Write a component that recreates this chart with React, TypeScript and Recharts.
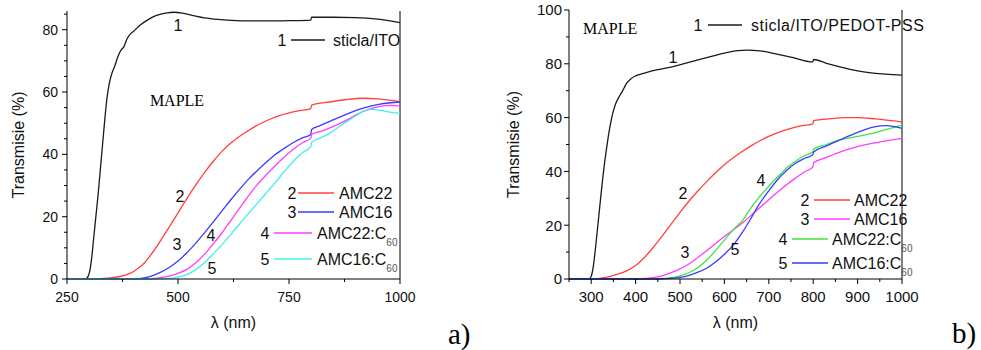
import React from "react";
import { Line, LineChart, ReferenceLine, XAxis, YAxis } from "recharts";

type Pt = [number, number];

// a) MAPLE films on glass/ITO — transmission (%) vs wavelength (nm)
const a1: Pt[] = [[250,0],[290,0],[295,0.3],[300,1.8],[305,6],[310,13],[315,20],[320,27],[325,35],[330,43],[335,51],[340,58],[345,62.5],[350,65.5],[358,68.5],[365,71.5],[372,73.5],[378,74.5],[385,77],[392,78.5],[400,79.5],[415,81.5],[430,83],[450,84.5],[475,85.4],[490,85.6],[510,85.3],[530,84.7],[560,83.8],[590,83.3],[620,83],[660,82.8],[700,82.8],[750,82.9],[799,83.1],[801,84],[850,84],[900,83.9],[950,83.4],[1000,82.3]];
const a2: Pt[] = [[250,0],[300,0],[340,0.3],[370,0.8],[392,1.8],[405,2.9],[422,4.8],[437,7.4],[452,10.4],[467,13.7],[482,17.1],[497,20.5],[512,24],[527,27.4],[542,30.6],[560,34.2],[579,37.7],[598,40.8],[617,43.4],[636,45.5],[655,47.3],[673,48.9],[692,50.3],[711,51.5],[730,52.5],[765,53.8],[799,54.7],[801,55.8],[842,56.8],[880,57.6],[917,58],[950,57.8],[1000,56.9]];
const a3: Pt[] = [[250,0],[400,0],[420,0.3],[440,0.9],[460,2.1],[480,3.7],[500,5.8],[520,8.4],[540,11.5],[560,14.9],[580,18.4],[600,22],[620,25.6],[640,29],[660,32.2],[680,35],[700,37.6],[720,40],[740,42],[760,43.8],[780,45.3],[799,46.4],[801,48],[820,49.2],[842,50.6],[880,52.9],[917,54.8],[955,56.1],[1000,56.8]];
const a4: Pt[] = [[250,0],[430,0],[460,0.4],[480,0.9],[500,1.8],[520,3.1],[540,5.2],[560,8],[580,11.4],[600,15],[620,19],[640,23],[660,26.9],[680,30.5],[700,33.6],[720,36.5],[740,39.2],[760,41.6],[780,43.7],[799,45.2],[801,46.4],[820,47.3],[842,48.5],[880,51],[917,53.8],[955,55.4],[980,55.7],[1000,55.5]];
const a5: Pt[] = [[250,0],[450,0],[480,0.2],[500,0.6],[520,1.4],[540,3],[560,5.3],[580,8.2],[600,11.2],[620,14.5],[640,17.9],[660,21.2],[680,24.5],[700,27.8],[720,31.1],[740,34.6],[760,37.8],[780,40.5],[799,42.5],[801,43.9],[820,45.2],[842,46.8],[860,48.6],[880,50.5],[900,52.3],[917,53.8],[935,54.4],[955,54.1],[980,53.5],[1000,53.2]];

// b) MAPLE films on glass/ITO/PEDOT-PSS
const b1: Pt[] = [[250,0],[295,0],[300,1],[305,5],[310,12],[315,20],[320,28],[325,36],[330,43],[335,49],[340,54.5],[345,59],[350,62.5],[356,65.5],[362,67.5],[368,69.2],[374,71],[380,72.8],[390,74.5],[400,75.5],[420,76.5],[447,77.7],[480,78.8],[522,80.6],[560,82.3],[600,84],[630,84.9],[650,85.1],[680,84.8],[710,83.9],[750,82.5],[799,80.7],[801,81.6],[830,80.2],[860,78.9],[900,77.4],[935,76.5],[1000,75.8]];
const b2: Pt[] = [[250,0],[300,0],[330,0.5],[360,1.8],[380,3],[400,5],[420,8],[440,11.8],[460,16],[480,20.4],[500,24.8],[520,28.9],[540,32.7],[560,36.2],[580,39.5],[600,42.5],[620,45.1],[640,47.4],[660,49.5],[680,51.4],[700,53],[720,54.4],[750,56],[775,57],[799,57.7],[801,58.9],[840,59.6],[870,60],[900,60],[940,59.5],[1000,58.4]];
const b3: Pt[] = [[250,0],[400,0],[430,0.3],[460,1.2],[490,3],[520,5.6],[556,10],[580,13.2],[600,15.8],[620,18.3],[642,21],[660,23.6],[676,26],[700,29.5],[720,32.3],[740,35],[760,37.5],[780,39.8],[799,41.6],[801,43.2],[830,45.2],[860,47.2],[900,49.2],[935,50.5],[970,51.5],[1000,52.3]];
const b4: Pt[] = [[250,0],[430,0],[470,0.3],[500,1.2],[522,2.5],[545,4.8],[565,7.8],[585,11.5],[605,15.5],[625,19.2],[642,22],[660,26.5],[676,30],[700,34.5],[720,38],[740,41.3],[760,43.8],[780,45.8],[799,47.3],[801,48.3],[830,50],[860,51.7],[900,53],[935,54.2],[970,55.8],[1000,57.2]];
const b5: Pt[] = [[250,0],[450,0],[480,0.2],[510,0.9],[535,2.2],[560,4],[580,6.3],[600,9.2],[620,12.6],[640,17.2],[660,22.6],[676,27.2],[700,32.8],[720,37],[740,40.3],[760,43],[780,44.8],[799,46.2],[801,47.2],[830,49.5],[860,51.7],[900,54.5],[935,56.5],[965,57],[1000,56]];

const xTicksA = [250, 375, 500, 625, 750, 875, 1000];
const xLabelsA = [250, 500, 750, 1000];
const yTicksA = [0, 5, 10, 15, 20, 25, 30, 35, 40, 45, 50, 55, 60, 65, 70, 75, 80, 85];
const yLabelsA = [0, 20, 40, 60, 80];

const xTicksB = [250, 300, 350, 400, 450, 500, 550, 600, 650, 700, 750, 800, 850, 900, 950, 1000];
const xLabelsB = [300, 400, 500, 600, 700, 800, 900, 1000];
const yTicksB = [0, 10, 20, 30, 40, 50, 60, 70, 80, 90, 100];
const yLabelsB = [0, 20, 40, 60, 80, 100];

const seriesA = [
  { num: "1", name: "sticla/ITO", sub: "", color: "#1a1a1a", pts: a1 },
  { num: "2", name: "AMC22", sub: "", color: "#ff4040", pts: a2 },
  { num: "3", name: "AMC16", sub: "", color: "#3a3aff", pts: a3 },
  { num: "4", name: "AMC22:C", sub: "60", color: "#ff3cff", pts: a4 },
  { num: "5", name: "AMC16:C", sub: "60", color: "#40f0f0", pts: a5 },
];
const seriesB = [
  { num: "1", name: "sticla/ITO/PEDOT-PSS", sub: "", color: "#1a1a1a", pts: b1 },
  { num: "2", name: "AMC22", sub: "", color: "#ff4040", pts: b2 },
  { num: "3", name: "AMC16", sub: "", color: "#ff3cff", pts: b3 },
  { num: "4", name: "AMC22:C", sub: "60", color: "#3ce63c", pts: b4 },
  { num: "5", name: "AMC16:C", sub: "60", color: "#3a3aff", pts: b5 },
];

const SANS = "'Liberation Sans', Arial, sans-serif";
const SERIF = "'Liberation Serif', 'Times New Roman', serif";

function XTick(props: any) {
  const { x, y, payload, labels, dir, fs } = props;
  const major = labels.includes(payload.value) || dir < 0;
  const len = major ? 5 : 3;
  return (
    <g>
      <line x1={x} x2={x} y1={y} y2={y + dir * len} stroke="#000" />
      {dir > 0 && labels.includes(payload.value) && (
        <text x={x} y={y + 23} textAnchor="middle" fontSize={fs} fontFamily={SANS} fill="#111">
          {payload.value}
        </text>
      )}
    </g>
  );
}

function YTick(props: any) {
  const { x, y, payload, labels, gap, fs } = props;
  const major = labels.includes(payload.value);
  const len = major ? 5 : 3;
  return (
    <g>
      <line x1={x - len} x2={x} y1={y} y2={y} stroke="#000" />
      {major && (
        <text x={x - 5 - gap} y={y} dy="0.36em" textAnchor="end" fontSize={fs} fontFamily={SANS} fill="#111">
          {payload.value}
        </text>
      )}
    </g>
  );
}

function Panel(p: any) {
  return (
    <div style={{ position: "absolute", left: p.left, top: 0 }}>
      <LineChart width={p.width} height={350} margin={{ top: p.top, right: p.right, bottom: 41, left: 0 }}>
        <XAxis
          xAxisId="b"
          type="number"
          dataKey="x"
          domain={[250, 1000]}
          ticks={p.xTicks}
          interval={0}
          tickLine={false}
          tickSize={0}
          tickMargin={0}
          height={30}
          axisLine={{ stroke: "#000" }}
          tick={<XTick labels={p.xLabels} dir={1} fs={p.fs} />}
          label={{ value: "λ (nm)", position: "bottom", offset: 8, fontSize: 16, fontFamily: SANS, fill: "#111" }}
        />
        <XAxis
          xAxisId="t"
          orientation="top"
          type="number"
          domain={[250, 1000]}
          ticks={p.xTicks}
          interval={0}
          tickLine={false}
          tickSize={0}
          tickMargin={0}
          height={0}
          axisLine={{ stroke: "#000" }}
          tick={<XTick labels={[]} dir={-1} fs={p.fs} />}
        />
        <YAxis
          type="number"
          domain={[0, p.yMax]}
          ticks={p.yTicks}
          interval={0}
          width={p.yAxisWidth}
          tickLine={false}
          tickSize={0}
          tickMargin={0}
          axisLine={{ stroke: "#000" }}
          tick={<YTick labels={p.yLabels} gap={p.gap} fs={p.fs} />}
          label={{
            value: "Transmisie (%)",
            angle: -90,
            position: "insideLeft",
            offset: p.yLabelX,
            fontSize: 16,
            fontFamily: SANS,
            fill: "#111",
            style: { textAnchor: "middle" },
          }}
        />
        <ReferenceLine xAxisId="b" x={1000} stroke="#000" />
        {p.series.map((s: any) => (
          <Line
            key={s.num}
            xAxisId="b"
            data={s.pts.map(([x, y]: Pt) => ({ x, y }))}
            dataKey="y"
            type="monotone"
            stroke={s.color}
            strokeWidth={1.3}
            dot={false}
            activeDot={false}
            isAnimationActive={false}
          />
        ))}
      </LineChart>
    </div>
  );
}

// annotation placement (page pixels)
const curveLabelsA = [[178, 25], [180, 196], [177, 244], [211, 235], [212, 268]];
const curveLabelsB = [[673, 57], [683, 193], [685, 252], [761, 180], [735, 249]];
const legendA = [
  { n: 282, x1: 291, x2: 325, t: 333, y: 40 },
  { n: 292, x1: 298, x2: 334, t: 339, y: 193 },
  { n: 292, x1: 298, x2: 334, t: 339, y: 212 },
  { n: 265, x1: 274, x2: 312, t: 317, y: 233 },
  { n: 265, x1: 274, x2: 312, t: 317, y: 259 },
];
const legendB = [
  { n: 698, x1: 708, x2: 742, t: 751, y: 25 },
  { n: 805, x1: 814, x2: 850, t: 854, y: 200 },
  { n: 805, x1: 814, x2: 850, t: 854, y: 219 },
  { n: 783, x1: 792, x2: 828, t: 832, y: 239 },
  { n: 783, x1: 792, x2: 828, t: 832, y: 263 },
];

function Notes({ series, labels, legend, wide }: any) {
  return (
    <g fontFamily={SANS} fontSize={16} fill="#111">
      {series.map((s: any, i: number) => (
        <text key={"c" + i} x={labels[i][0]} y={labels[i][1]} dy="0.36em" textAnchor="middle">
          {s.num}
        </text>
      ))}
      {series.map((s: any, i: number) => {
        const l = legend[i];
        return (
          <g key={"l" + i}>
            <text x={l.n} y={l.y} dy="0.36em" textAnchor="middle">{s.num}</text>
            <line x1={l.x1} x2={l.x2} y1={l.y} y2={l.y} stroke={s.color} strokeWidth={1.6} />
            <text x={l.t} y={l.y} dy="0.36em" letterSpacing={i === 0 && wide ? 0.5 : 0}>
              {s.name}
              {s.sub && (
                <tspan fontSize={10} dy={7} fill="#555">{s.sub}</tspan>
              )}
            </text>
          </g>
        );
      })}
    </g>
  );
}

export default function App() {
  return (
    <div style={{ position: "absolute", left: 0, top: 0, width: 981, height: 350, background: "#fff" }}>
      <Panel left={0} width={490} right={90} top={11} yMax={86} yAxisWidth={67} yLabelX={18} gap={4} fs={14}
        xTicks={xTicksA} xLabels={xLabelsA} yTicks={yTicksA} yLabels={yLabelsA} series={seriesA} />
      <Panel left={490} width={491} right={79} top={10} yMax={100} yAxisWidth={79} yLabelX={23} gap={2} fs={15}
        xTicks={xTicksB} xLabels={xLabelsB} yTicks={yTicksB} yLabels={yLabelsB} series={seriesB} />
      <svg width={981} height={350} style={{ position: "absolute", left: 0, top: 0, pointerEvents: "none" }}>
        <text x={177} y={100} dy="0.36em" textAnchor="middle" fontFamily={SERIF} fontSize={16}>MAPLE</text>
        <text x={583} y={28} dy="0.36em" fontFamily={SERIF} fontSize={16}>MAPLE</text>
        <Notes series={seriesA} labels={curveLabelsA} legend={legendA} />
        <Notes series={seriesB} labels={curveLabelsB} legend={legendB} wide />
        <text x={448} y={334} dy="0.36em" fontFamily={SERIF} fontSize={29}>a)</text>
        <text x={952} y={333} dy="0.36em" fontFamily={SERIF} fontSize={29}>b)</text>
      </svg>
    </div>
  );
}
